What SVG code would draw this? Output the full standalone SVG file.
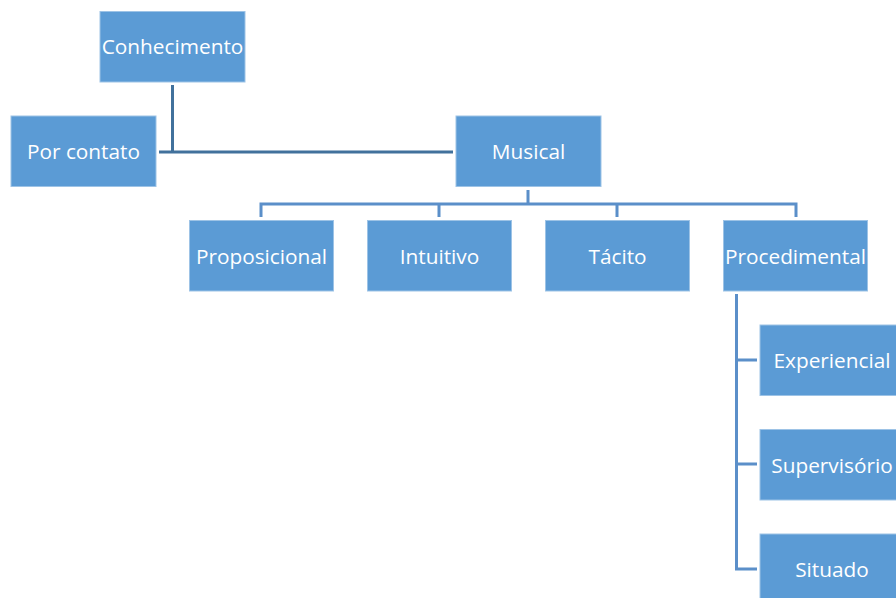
<svg xmlns="http://www.w3.org/2000/svg" width="896" height="598" viewBox="0 0 896 598">
<style>
.box{fill:#5B9BD5;stroke:#9DC3E6;stroke-width:1}
.lbl{fill:#ffffff;font-family:"Open Sans","Noto Sans",sans-serif;font-size:20.8px;text-anchor:middle;dominant-baseline:central}
.c1{fill:none;stroke:#41719C;stroke-width:3}
.c2{fill:none;stroke:#5B8FC9;stroke-width:3}
</style>
<rect width="896" height="598" fill="#ffffff"/>
<g id="connectors">
<path class="c1" d="M172.5 85 V152 M159 152 H453"/>
<path class="c2" d="M528 190 V204 M261 217 V204 H796 V217 M439 204 V217 M617 204 V217"/>
<path class="c2" d="M736.5 294 V569 H757 M736.5 360 H757 M736.5 464 H757"/>
</g>
<g id="n-conhecimento"><rect class="box" x="100" y="11.5" width="145" height="70.5"/><text class="lbl" x="172.5" y="46">Conhecimento</text></g>
<g id="n-porcontato"><rect class="box" x="11" y="116" width="145" height="70.5"/><text class="lbl" x="83.5" y="151">Por contato</text></g>
<g id="n-musical"><rect class="box" x="456" y="116" width="145" height="70.5"/><text class="lbl" x="528.5" y="151">Musical</text></g>
<g id="n-proposicional"><rect class="box" x="189.5" y="220.5" width="144" height="70.5"/><text class="lbl" x="261.5" y="256">Proposicional</text></g>
<g id="n-intuitivo"><rect class="box" x="367.5" y="220.5" width="144" height="70.5"/><text class="lbl" x="439.5" y="256">Intuitivo</text></g>
<g id="n-tacito"><rect class="box" x="545.5" y="220.5" width="144" height="70.5"/><text class="lbl" x="617.5" y="256">Tácito</text></g>
<g id="n-procedimental"><rect class="box" x="723.5" y="220.5" width="144" height="70.5"/><text class="lbl" x="795.5" y="256">Procedimental</text></g>
<g id="n-experiencial"><rect class="box" x="760" y="325" width="145" height="70.5"/><text class="lbl" x="832" y="360">Experiencial</text></g>
<g id="n-supervisorio"><rect class="box" x="760" y="429.5" width="145" height="70.5"/><text class="lbl" x="832" y="464.5">Supervisório</text></g>
<g id="n-situado"><rect class="box" x="760" y="534" width="145" height="70.5"/><text class="lbl" x="832" y="569">Situado</text></g>
</svg>
